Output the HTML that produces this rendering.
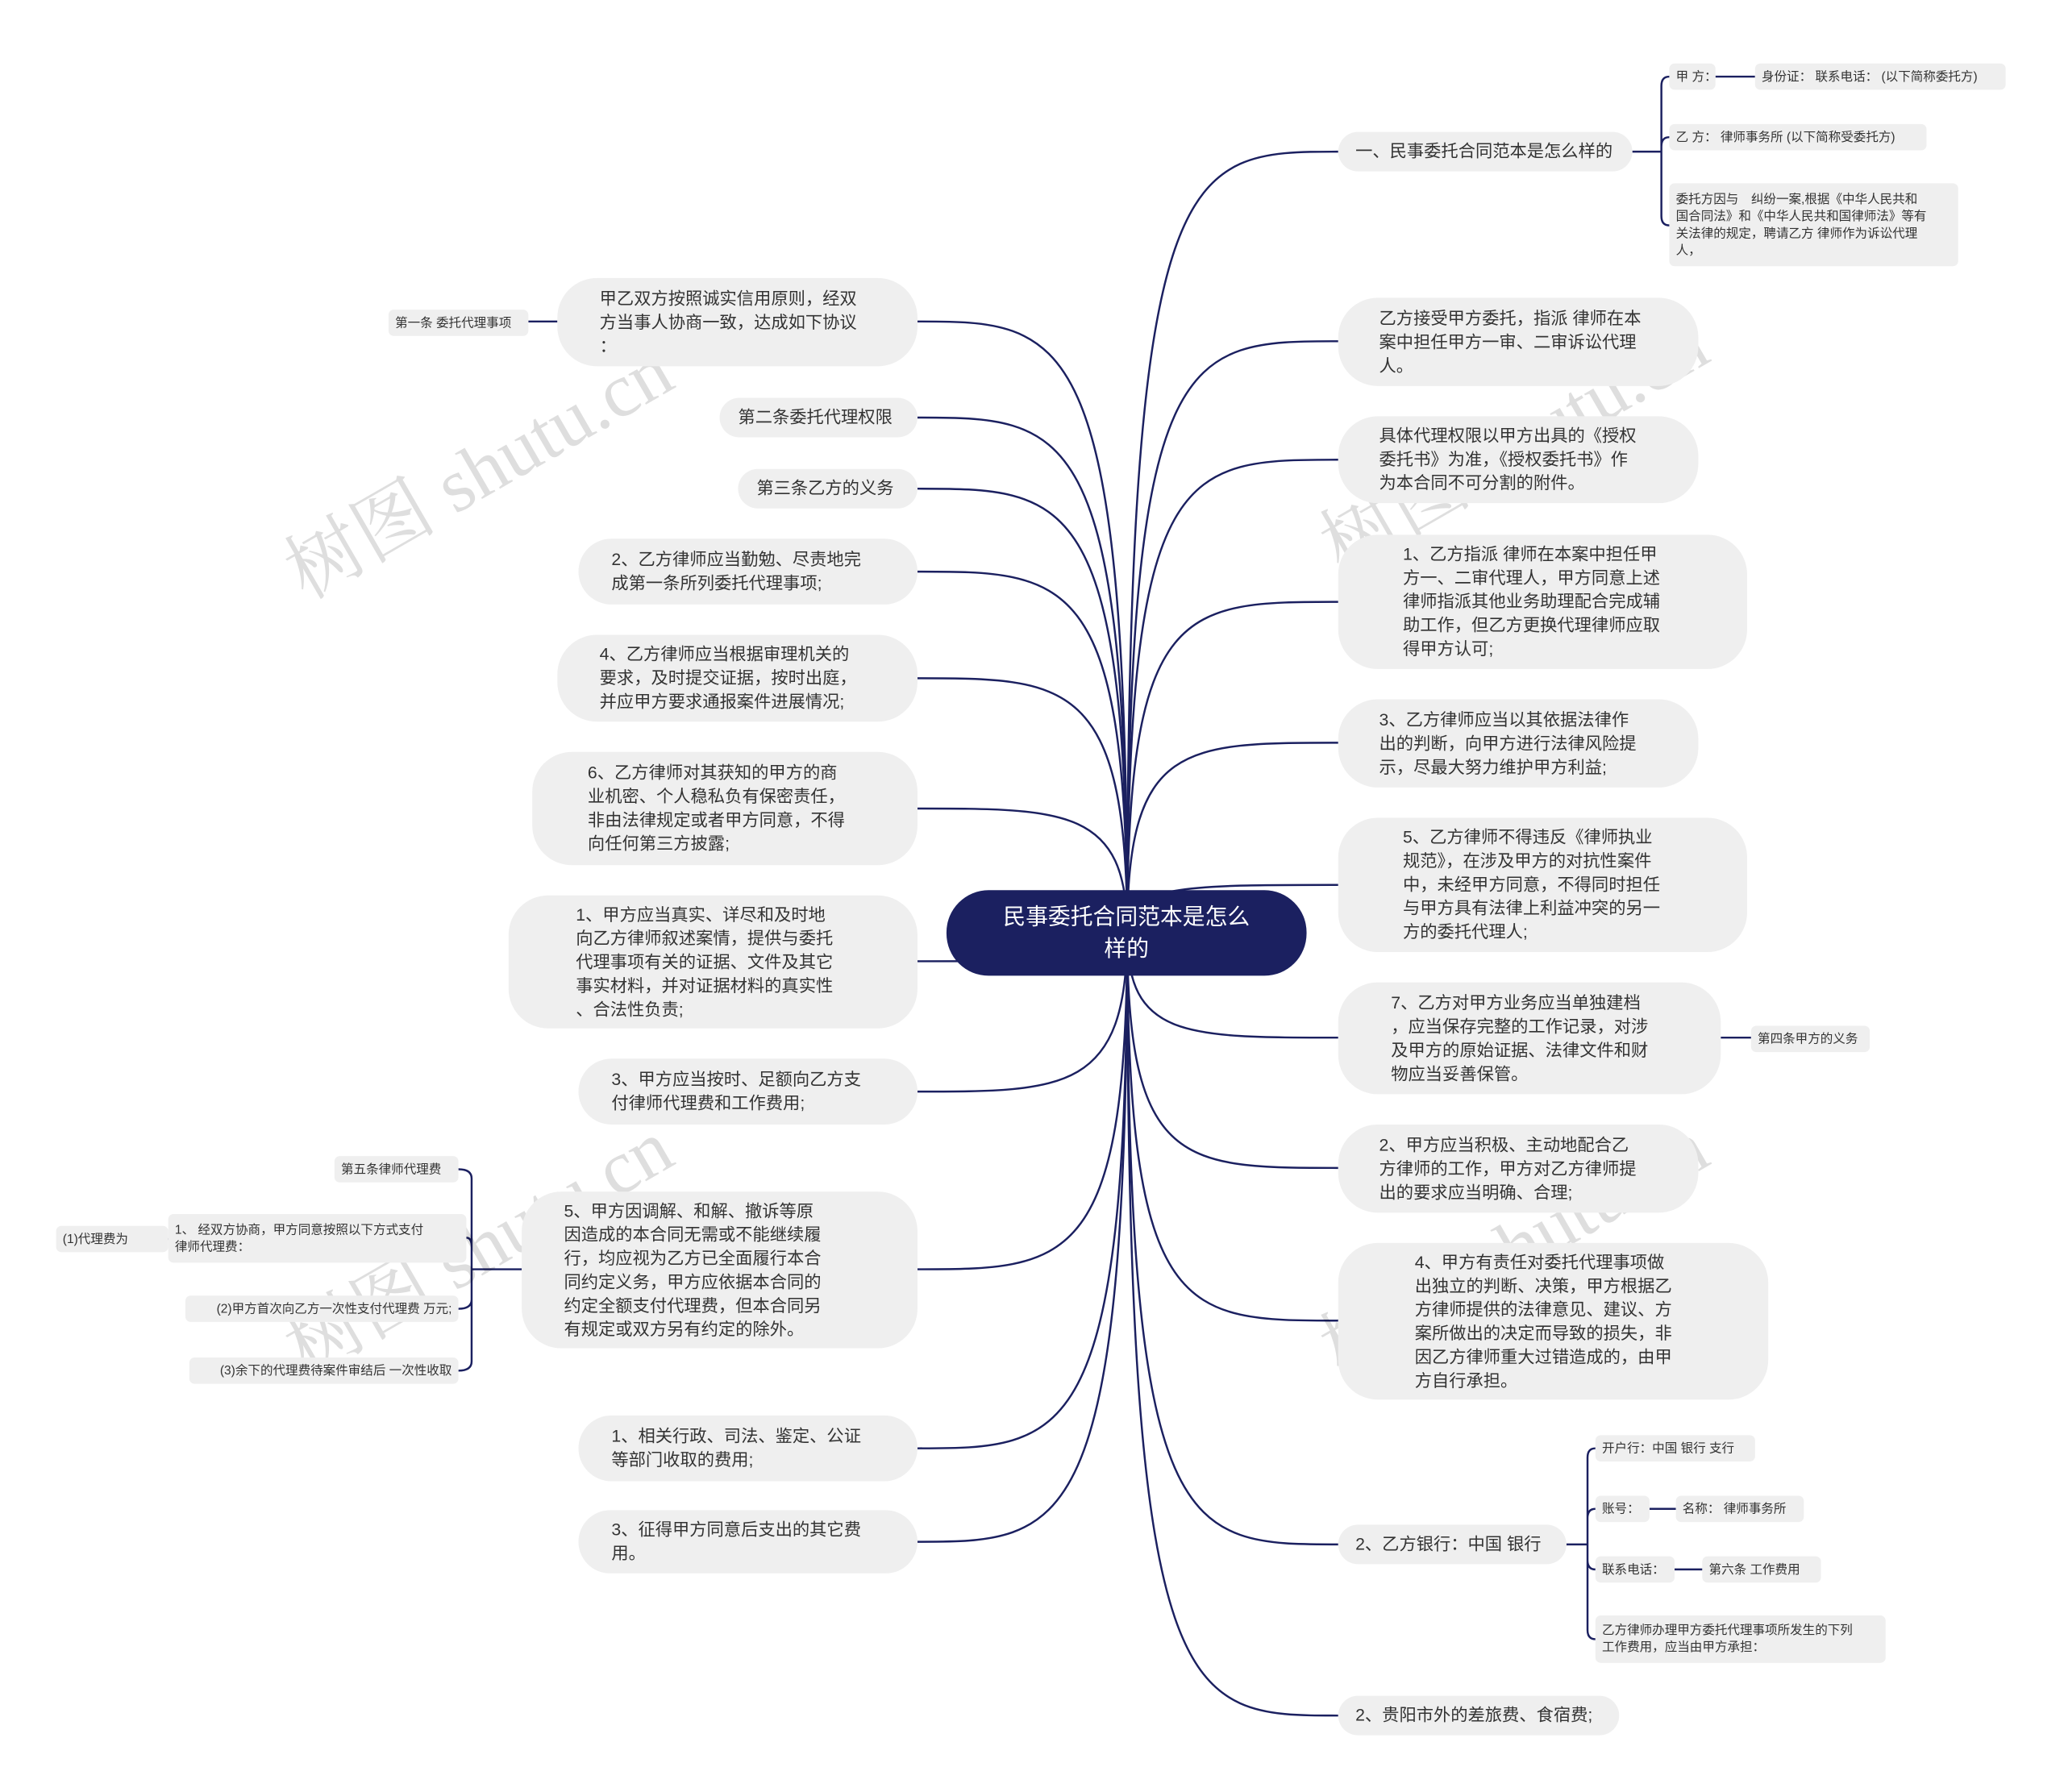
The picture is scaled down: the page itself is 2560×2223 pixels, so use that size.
<!DOCTYPE html>
<html><head><meta charset="utf-8">
<style>
html,body{margin:0;padding:0;background:#fff;}
body{width:2560px;height:2223px;overflow:hidden;position:relative;}
#c{position:absolute;left:-4px;top:2px;width:1560px;height:1355px;transform:scale(1.636,1.633);transform-origin:0 0;font-family:"Liberation Sans","Noto Sans CJK SC",sans-serif;color:#333;}
.n{position:absolute;background:#efefef;box-sizing:border-box;font-size:13px;line-height:18px;display:flex;align-items:center;border-radius:30px;padding:0 22px;white-space:nowrap;}
.s{position:absolute;background:#efefef;box-sizing:border-box;font-size:9.5px;line-height:13px;display:flex;align-items:center;border-radius:4px;padding:0 5px;white-space:nowrap;}
.root{position:absolute;background:#1b2060;color:#fff;font-size:17px;line-height:24px;text-align:center;border-radius:32px;display:flex;align-items:center;justify-content:center;box-sizing:border-box;white-space:nowrap;}
svg{position:absolute;left:0;top:0;}
.wm{position:absolute;font-family:"Liberation Serif","Noto Serif CJK SC",serif;font-size:58px;color:rgba(0,0,0,0.13);transform:rotate(-30deg);white-space:nowrap;}
</style></head><body><div id="c">
<svg width="1560" height="1355" fill="none" stroke="#1b2060" stroke-width="1.5">
<path d="M857 707 C857 114,900 114,1017 114"/>
<path d="M857 707 C857 258,900 258,1017 258"/>
<path d="M857 707 C857 348,900 348,1017 348"/>
<path d="M857 707 C857 456,900 456,1017 456"/>
<path d="M857 707 C857 563,900 563,1017 563"/>
<path d="M857 707 C857 671,900 671,1017 671"/>
<path d="M857 707 C857 787,900 787,1017 787"/>
<path d="M857 707 C857 886,900 886,1017 886"/>
<path d="M857 707 C857 1002,900 1002,1017 1002"/>
<path d="M857 707 C857 1172,900 1172,1017 1172"/>
<path d="M857 707 C857 1302,900 1302,1017 1302"/>
<path d="M857 707 C857 243,810 243,698 243"/>
<path d="M857 707 C857 316,810 316,698 316"/>
<path d="M857 707 C857 370,810 370,698 370"/>
<path d="M857 707 C857 433,810 433,698 433"/>
<path d="M857 707 C857 514,810 514,698 514"/>
<path d="M857 707 C857 613,810 613,698 613"/>
<path d="M857 707 C857 729,810 729,698 729"/>
<path d="M857 707 C857 828,810 828,698 828"/>
<path d="M857 707 C857 963,810 963,698 963"/>
<path d="M857 707 C857 1099,810 1099,698 1099"/>
<path d="M857 707 C857 1170,810 1170,698 1170"/>
<path d="M1240 114 H1262 M1262 114 L1262 64 Q1262 57 1268 57 M1262 114 L1262 110 Q1262 103 1268 103 M1262 114 L1262 163 Q1262 170 1268 170"/>
<path d="M1303 57 H1333"/>
<path d="M1307 787 H1330"/>
<path d="M1190 1172 H1206 M1206 1172 L1206 1106 Q1206 1099 1212 1099 M1206 1172 L1206 1152 Q1206 1145 1212 1145 M1206 1172 L1206 1184 Q1206 1191 1212 1191 M1206 1172 L1206 1237 Q1206 1244 1212 1244"/>
<path d="M1253 1145 H1273 M1272 1191 H1293"/>
<path d="M425 243 H403"/>
<path d="M398 963 H360 M360 963 L360 894 Q360 887 350 887 M360 963 L360 946 Q360 939 356 939 M360 963 L360 986 Q360 993 350 993 M360 963 L360 1033 Q360 1040 350 1040"/>
<path d="M130 940 H135"/>
</svg>

<div class="wm" style="left:200px;top:310px;">树图 shutu.cn</div>
<div class="wm" style="left:200px;top:900px;">树图 shutu.cn</div>
<div class="wm" style="left:985px;top:290px;">树图 shutu.cn</div>
<div class="wm" style="left:985px;top:900px;">树图 shutu.cn</div>

<div class="root" style="left:720px;top:675px;width:273px;height:65px;">民事委托合同范本是怎么<br>样的</div>

<div class="n" style="left:1017px;top:99px;width:223px;height:30px;padding:0 13px;">一、民事委托合同范本是怎么样的</div>
<div class="s" style="left:1268px;top:47px;width:35px;height:20px;">甲 方：</div>
<div class="s" style="left:1333px;top:47px;width:190px;height:20px;">身份证： 联系电话： (以下简称委托方)</div>
<div class="s" style="left:1268px;top:93px;width:195px;height:20px;">乙 方： 律师事务所 (以下简称受委托方)</div>
<div class="s" style="left:1268px;top:138px;width:219px;height:63px;">委托方因与　纠纷一案,根据《中华人民共和<br>国合同法》和《中华人民共和国律师法》等有<br>关法律的规定，聘请乙方 律师作为诉讼代理<br>人，</div>

<div class="n" style="left:1017px;top:225px;width:273px;height:67px;padding:0 31px;">乙方接受甲方委托，指派 律师在本<br>案中担任甲方一审、二审诉讼代理<br>人。</div>
<div class="n" style="left:1017px;top:315px;width:273px;height:66px;padding:0 31px;">具体代理权限以甲方出具的《授权<br>委托书》为准，《授权委托书》作<br>为本合同不可分割的附件。</div>
<div class="n" style="left:1017px;top:405px;width:310px;height:102px;padding:0 49px;">1、乙方指派 律师在本案中担任甲<br>方一、二审代理人，甲方同意上述<br>律师指派其他业务助理配合完成辅<br>助工作，但乙方更换代理律师应取<br>得甲方认可;</div>
<div class="n" style="left:1017px;top:530px;width:273px;height:67px;padding:0 31px;">3、乙方律师应当以其依据法律作<br>出的判断，向甲方进行法律风险提<br>示，尽最大努力维护甲方利益;</div>
<div class="n" style="left:1017px;top:620px;width:310px;height:102px;padding:0 49px;">5、乙方律师不得违反《律师执业<br>规范》，在涉及甲方的对抗性案件<br>中，未经甲方同意，不得同时担任<br>与甲方具有法律上利益冲突的另一<br>方的委托代理人;</div>
<div class="n" style="left:1017px;top:745px;width:290px;height:85px;padding:0 40px;">7、乙方对甲方业务应当单独建档<br>，应当保存完整的工作记录，对涉<br>及甲方的原始证据、法律文件和财<br>物应当妥善保管。</div>
<div class="s" style="left:1330px;top:778px;width:90px;height:20px;">第四条甲方的义务</div>
<div class="n" style="left:1017px;top:853px;width:273px;height:67px;padding:0 31px;">2、甲方应当积极、主动地配合乙<br>方律师的工作，甲方对乙方律师提<br>出的要求应当明确、合理;</div>
<div class="n" style="left:1017px;top:943px;width:326px;height:119px;padding:0 58px;">4、甲方有责任对委托代理事项做<br>出独立的判断、决策，甲方根据乙<br>方律师提供的法律意见、建议、方<br>案所做出的决定而导致的损失，非<br>因乙方律师重大过错造成的，由甲<br>方自行承担。</div>
<div class="n" style="left:1017px;top:1157px;width:173px;height:30px;padding:0 13px;">2、乙方银行：中国 银行</div>
<div class="s" style="left:1212px;top:1089px;width:121px;height:20px;">开户行：中国 银行 支行</div>
<div class="s" style="left:1212px;top:1135px;width:41px;height:20px;">账号：</div>
<div class="s" style="left:1273px;top:1135px;width:97px;height:20px;">名称： 律师事务所</div>
<div class="s" style="left:1212px;top:1181px;width:60px;height:20px;">联系电话：</div>
<div class="s" style="left:1293px;top:1181px;width:90px;height:20px;">第六条 工作费用</div>
<div class="s" style="left:1212px;top:1226px;width:220px;height:36px;">乙方律师办理甲方委托代理事项所发生的下列<br>工作费用，应当由甲方承担：</div>
<div class="n" style="left:1017px;top:1287px;width:213px;height:30px;padding:0 13px;">2、贵阳市外的差旅费、食宿费;</div>

<div class="n" style="left:425px;top:210px;width:273px;height:67px;padding:0 32px;">甲乙双方按照诚实信用原则，经双<br>方当事人协商一致，达成如下协议<br>：</div>
<div class="s" style="left:297px;top:234px;width:106px;height:20px;">第一条 委托代理事项</div>
<div class="n" style="left:548px;top:301px;width:150px;height:30px;padding:0 14px;">第二条委托代理权限</div>
<div class="n" style="left:562px;top:355px;width:136px;height:30px;padding:0 14px;">第三条乙方的义务</div>
<div class="n" style="left:441px;top:408px;width:257px;height:50px;padding:0 25px;">2、乙方律师应当勤勉、尽责地完<br>成第一条所列委托代理事项;</div>
<div class="n" style="left:425px;top:481px;width:273px;height:66px;padding:0 32px;">4、乙方律师应当根据审理机关的<br>要求，及时提交证据，按时出庭，<br>并应甲方要求通报案件进展情况;</div>
<div class="n" style="left:406px;top:570px;width:292px;height:86px;padding:0 42px;">6、乙方律师对其获知的甲方的商<br>业机密、个人稳私负有保密责任，<br>非由法律规定或者甲方同意，不得<br>向任何第三方披露;</div>
<div class="n" style="left:388px;top:679px;width:310px;height:101px;padding:0 51px;">1、甲方应当真实、详尽和及时地<br>向乙方律师叙述案情，提供与委托<br>代理事项有关的证据、文件及其它<br>事实材料，并对证据材料的真实性<br>、合法性负责;</div>
<div class="n" style="left:441px;top:803px;width:257px;height:50px;padding:0 25px;">3、甲方应当按时、足额向乙方支<br>付律师代理费和工作费用;</div>
<div class="n" style="left:398px;top:904px;width:300px;height:119px;padding:0 32px;">5、甲方因调解、和解、撤诉等原<br>因造成的本合同无需或不能继续履<br>行，均应视为乙方已全面履行本合<br>同约定义务，甲方应依据本合同的<br>约定全额支付代理费，但本合同另<br>有规定或双方另有约定的除外。</div>
<div class="s" style="left:256px;top:877px;width:94px;height:20px;">第五条律师代理费</div>
<div class="s" style="left:130px;top:921px;width:226px;height:37px;">1、 经双方协商，甲方同意按照以下方式支付<br>律师代理费：</div>
<div class="s" style="left:45px;top:930px;width:85px;height:20px;">(1)代理费为</div>
<div class="s" style="left:143px;top:983px;width:207px;height:20px;justify-content:flex-end;">(2)甲方首次向乙方一次性支付代理费 万元;</div>
<div class="s" style="left:146px;top:1030px;width:204px;height:20px;justify-content:flex-end;">(3)余下的代理费待案件审结后 一次性收取</div>
<div class="n" style="left:441px;top:1074px;width:257px;height:50px;padding:0 25px;">1、相关行政、司法、鉴定、公证<br>等部门收取的费用;</div>
<div class="n" style="left:441px;top:1146px;width:257px;height:48px;padding:0 25px;">3、征得甲方同意后支出的其它费<br>用。</div>
</div></body></html>
